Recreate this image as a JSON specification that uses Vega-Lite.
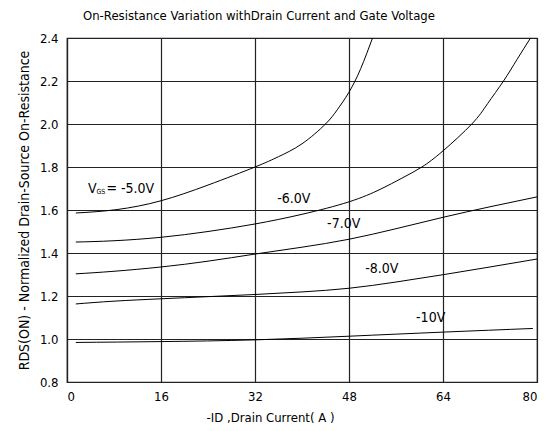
{
  "$schema": "https://vega.github.io/schema/vega-lite/v6.json",
  "width": 470,
  "height": 344,
  "autosize": {"type": "none"},
  "padding": {"left": 67, "top": 38, "right": 10, "bottom": 49},
  "background": "white",
  "config": {
    "font": "DejaVu Sans Condensed",
    "view": {"stroke": "#222", "strokeWidth": 1.2},
    "axis": {
      "labelFont": "DejaVu Sans Condensed",
      "titleFont": "DejaVu Sans Condensed",
      "labelColor": "#000",
      "titleColor": "#000",
      "titleFontWeight": "normal",
      "gridColor": "#222",
      "gridWidth": 1.2,
      "gridOpacity": 1,
      "domainColor": "#222",
      "domainWidth": 1.2,
      "ticks": false
    }
  },
  "title": {
    "text": "On-Resistance Variation withDrain Current and Gate Voltage",
    "font": "DejaVu Sans Condensed",
    "fontSize": 13,
    "fontWeight": "normal",
    "color": "#000",
    "anchor": "start",
    "frame": "group",
    "dx": 16,
    "offset": 9
  },
  "datasets": {
    "curves": [
      {"series": "-5.0V", "x": 1.5, "y": 1.586},
      {"series": "-5.0V", "x": 8.5, "y": 1.602},
      {"series": "-5.0V", "x": 16, "y": 1.643},
      {"series": "-5.0V", "x": 24, "y": 1.716},
      {"series": "-5.0V", "x": 32, "y": 1.8},
      {"series": "-5.0V", "x": 36, "y": 1.848},
      {"series": "-5.0V", "x": 40, "y": 1.908},
      {"series": "-5.0V", "x": 44, "y": 2.0},
      {"series": "-5.0V", "x": 46, "y": 2.066},
      {"series": "-5.0V", "x": 48, "y": 2.148},
      {"series": "-5.0V", "x": 50, "y": 2.258},
      {"series": "-5.0V", "x": 52, "y": 2.4},
      {"series": "-6.0V", "x": 1.5, "y": 1.451},
      {"series": "-6.0V", "x": 8, "y": 1.457},
      {"series": "-6.0V", "x": 16, "y": 1.473},
      {"series": "-6.0V", "x": 24, "y": 1.5},
      {"series": "-6.0V", "x": 32, "y": 1.535},
      {"series": "-6.0V", "x": 40, "y": 1.58},
      {"series": "-6.0V", "x": 48, "y": 1.638},
      {"series": "-6.0V", "x": 53.3, "y": 1.696},
      {"series": "-6.0V", "x": 57, "y": 1.748},
      {"series": "-6.0V", "x": 60.4, "y": 1.8},
      {"series": "-6.0V", "x": 64, "y": 1.875},
      {"series": "-6.0V", "x": 68.9, "y": 2.0},
      {"series": "-6.0V", "x": 71.6, "y": 2.095},
      {"series": "-6.0V", "x": 74.3, "y": 2.2},
      {"series": "-6.0V", "x": 76.6, "y": 2.3},
      {"series": "-6.0V", "x": 78.9, "y": 2.4},
      {"series": "-7.0V", "x": 1.5, "y": 1.303},
      {"series": "-7.0V", "x": 8, "y": 1.315},
      {"series": "-7.0V", "x": 16, "y": 1.335},
      {"series": "-7.0V", "x": 24, "y": 1.362},
      {"series": "-7.0V", "x": 32, "y": 1.395},
      {"series": "-7.0V", "x": 40, "y": 1.427},
      {"series": "-7.0V", "x": 48, "y": 1.464},
      {"series": "-7.0V", "x": 56, "y": 1.513},
      {"series": "-7.0V", "x": 64, "y": 1.566},
      {"series": "-7.0V", "x": 72, "y": 1.615},
      {"series": "-7.0V", "x": 80, "y": 1.661},
      {"series": "-8.0V", "x": 1.5, "y": 1.163},
      {"series": "-8.0V", "x": 8, "y": 1.176},
      {"series": "-8.0V", "x": 16, "y": 1.187},
      {"series": "-8.0V", "x": 24, "y": 1.197},
      {"series": "-8.0V", "x": 32, "y": 1.207},
      {"series": "-8.0V", "x": 40, "y": 1.219},
      {"series": "-8.0V", "x": 48, "y": 1.236},
      {"series": "-8.0V", "x": 56, "y": 1.265},
      {"series": "-8.0V", "x": 64, "y": 1.299},
      {"series": "-8.0V", "x": 72, "y": 1.335},
      {"series": "-8.0V", "x": 80, "y": 1.372},
      {"series": "-10V", "x": 1.5, "y": 0.984},
      {"series": "-10V", "x": 16, "y": 0.988},
      {"series": "-10V", "x": 32, "y": 0.996},
      {"series": "-10V", "x": 48, "y": 1.013},
      {"series": "-10V", "x": 64, "y": 1.032},
      {"series": "-10V", "x": 79.3, "y": 1.049}
    ],
    "labels": [
      {"label": "-6.0V", "x": 38.6, "y": 1.65},
      {"label": "-7.0V", "x": 47.1, "y": 1.535},
      {"label": "-8.0V", "x": 53.6, "y": 1.326},
      {"label": "-10V", "x": 61.9, "y": 1.098}
    ],
    "vgs": [
      {"x": 3.57, "y": 1.7}
    ]
  },
  "layer": [
    {
      "data": {"name": "curves"},
      "mark": {"type": "line", "color": "#000", "strokeWidth": 1, "interpolate": "natural", "clip": true},
      "encoding": {
        "x": {
          "field": "x", "type": "quantitative",
          "scale": {"domain": [0, 80], "nice": false, "zero": false},
          "axis": {
            "values": [0, 16, 32, 48, 64, 80],
            "title": "-ID ,Drain Current( A )",
            "labelFontSize": 13,
            "labelPadding": 8,
            "titleFontSize": 13,
            "titleX": 203,
            "titleY": 35,
            "titleBaseline": "middle",
            "titleAlign": "center"
          }
        },
        "y": {
          "field": "y", "type": "quantitative",
          "scale": {"domain": [0.8, 2.4], "nice": false, "zero": false},
          "axis": {
            "values": [0.8, 1.0, 1.2, 1.4, 1.6, 1.8, 2.0, 2.2, 2.4],
            "format": ".1f",
            "title": "RDS(ON) - Normalized Drain-Source On-Resistance",
            "labelFontSize": 13,
            "labelPadding": 9,
            "titleFontSize": 14,
            "titlePadding": 8
          }
        },
        "detail": {"field": "series", "type": "nominal"}
      }
    },
    {
      "data": {"name": "labels"},
      "mark": {"type": "text", "fontSize": 14, "color": "#000", "align": "center", "baseline": "middle"},
      "encoding": {
        "x": {"field": "x", "type": "quantitative"},
        "y": {"field": "y", "type": "quantitative"},
        "text": {"field": "label", "type": "nominal"}
      }
    },
    {
      "data": {"name": "vgs"},
      "mark": {"type": "text", "fontSize": 14, "color": "#000", "align": "left", "baseline": "middle"},
      "encoding": {
        "x": {"field": "x", "type": "quantitative"},
        "y": {"field": "y", "type": "quantitative"},
        "text": {"value": "V"}
      }
    },
    {
      "data": {"name": "vgs"},
      "mark": {"type": "text", "fontSize": 7, "color": "#000", "align": "left", "baseline": "middle", "dx": 8.5, "dy": 3},
      "encoding": {
        "x": {"field": "x", "type": "quantitative"},
        "y": {"field": "y", "type": "quantitative"},
        "text": {"value": "GS"}
      }
    },
    {
      "data": {"name": "vgs"},
      "mark": {"type": "text", "fontSize": 14, "color": "#000", "align": "left", "baseline": "middle", "dx": 18.5},
      "encoding": {
        "x": {"field": "x", "type": "quantitative"},
        "y": {"field": "y", "type": "quantitative"},
        "text": {"value": "= -5.0V"}
      }
    }
  ]
}
